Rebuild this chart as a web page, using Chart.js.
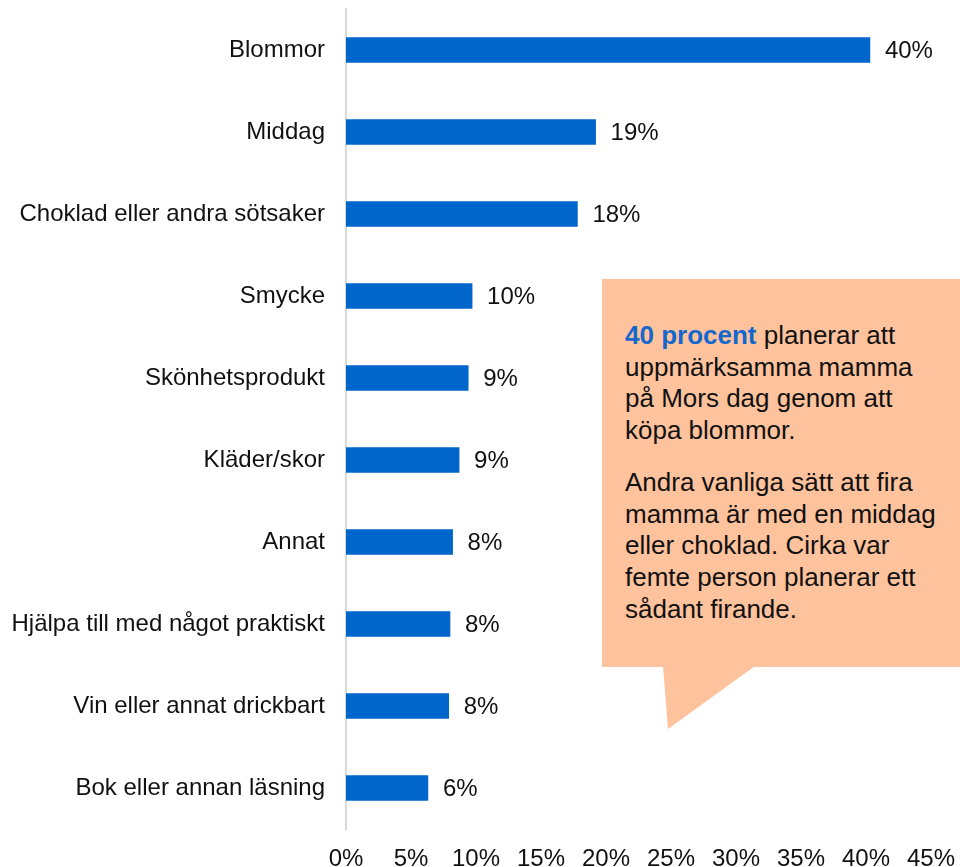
<!DOCTYPE html>
<html lang="sv">
<head>
<meta charset="utf-8">
<script src="https://cdn.jsdelivr.net/npm/chart.js@4.4.1/dist/chart.umd.min.js"></script>
<style>
  html, body { margin: 0; padding: 0; background: #fff; }
  #wrap { position: relative; width: 960px; height: 867px; overflow: hidden; }
  #chart { position: absolute; left: 0; top: 0; }
  .callout {
    position: absolute; left: 602px; top: 279px; width: 358px; height: 388px;
    background: #FEC29C; box-sizing: border-box; padding: 41px 20px 0 23px;
    font-family: 'Liberation Sans', Arial, sans-serif; font-size: 26px; line-height: 31.7px;
    color: #111;
  }
  .callout p { margin: 0 0 20px 0; }
  .callout b { color: #1467CC; }
  .tail {
    position: absolute; left: 0; top: 0; width: 960px; height: 867px; pointer-events: none;
  }
</style>
</head>
<body>
<div id="wrap">
  <canvas id="chart" width="960" height="867"></canvas>
  <svg class="tail" width="960" height="867"><polygon points="663,666 755,666 668,729" fill="#FEC29C"/></svg>
  <div class="callout">
    <p><b>40 procent</b> planerar att uppmärksamma mamma på Mors dag genom att köpa blommor.</p>
    <p>Andra vanliga sätt att fira mamma är med en middag eller choklad. Cirka var femte person planerar ett sådant firande.</p>
  </div>
</div>
<script>
// ============================================================
// Data
// ============================================================
const CATEGORIES = [
  'Blommor',
  'Middag',
  'Choklad eller andra sötsaker',
  'Smycke',
  'Skönhetsprodukt',
  'Kläder/skor',
  'Annat',
  'Hjälpa till med något praktiskt',
  'Vin eller annat drickbart',
  'Bok eller annan läsning',
];
const VALUES = [40.3, 19.2, 17.8, 9.7, 9.4, 8.7, 8.2, 8.0, 7.9, 6.3];
const X_MIN = 0;
const X_MAX = 45;
const X_STEP = 5;

const FONT = "'Liberation Sans', Arial, sans-serif";
const BAR_COLOR = '#0066CC';

// value labels at the end of each bar
const valueLabels = {
  id: 'valueLabels',
  afterDatasetsDraw(chart) {
    const ctx = chart.ctx;
    const meta = chart.getDatasetMeta(0);
    ctx.save();
    ctx.font = '24px ' + FONT;
    ctx.fillStyle = '#111';
    ctx.textAlign = 'left';
    ctx.textBaseline = 'middle';
    meta.data.forEach((bar, i) => {
      ctx.fillText(Math.round(VALUES[i]) + '%', bar.x + 15, bar.y + 1);
    });
    ctx.restore();
  },
};

new Chart(document.getElementById('chart').getContext('2d'), {
  type: 'bar',
  data: {
    labels: CATEGORIES,
    datasets: [{
      data: VALUES,
      backgroundColor: BAR_COLOR,
      borderWidth: 0,
      barThickness: 25,
    }],
  },
  options: {
    indexAxis: 'y',
    responsive: false,
    animation: false,
    layout: { padding: { top: 9, right: 29, left: 0, bottom: 0 } },
    plugins: { legend: { display: false }, tooltip: { enabled: false } },
    scales: {
      x: {
        min: X_MIN,
        max: X_MAX,
        grid: { display: false, drawTicks: false },
        border: { display: false },
        ticks: {
          stepSize: X_STEP,
          padding: 16,
          color: '#111',
          font: { family: FONT, size: 24 },
          callback: v => v + '%',
        },
        afterFit: s => { s.height = 38; s.paddingLeft = 0; s.paddingRight = 0; },
      },
      y: {
        grid: { display: false, drawTicks: false },
        border: { display: true, color: '#D9D9D9', width: 2 },
        ticks: {
          padding: 21,
          color: '#111',
          font: { family: FONT, size: 24 },
        },
        afterFit: s => { s.width = 346; s.paddingTop = 0; s.paddingBottom = 0; },
      },
    },
  },
  plugins: [valueLabels],
});
</script>
</body>
</html>
